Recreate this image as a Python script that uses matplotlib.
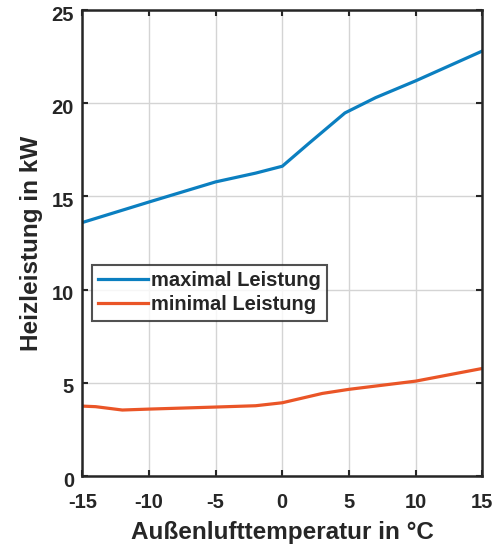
import matplotlib
matplotlib.use("Agg")
import matplotlib.pyplot as plt
from matplotlib.transforms import ScaledTranslation

# Outdoor air temperature (°C) and heating capacity (kW)
temp_max = [-15, -10, -5, -2, 0, 2, 4.7, 7, 10, 15]
power_max = [13.6, 14.7, 15.78, 16.25, 16.62, 17.85, 19.48, 20.3, 21.2, 22.8]

temp_min = [-15, -14, -12, -10, -5, -2, 0, 3, 5, 10, 15]
power_min = [3.75, 3.72, 3.54, 3.59, 3.7, 3.77, 3.93, 4.43, 4.65, 5.09, 5.77]

x_ticks = [-15, -10, -5, 0, 5, 10, 15]
y_ticks = [0, 5, 10, 15, 20, 25]

plt.rcParams["font.family"] = ["Liberation Sans", "DejaVu Sans"]
plt.rcParams["font.weight"] = "bold"
plt.rcParams["axes.unicode_minus"] = False

fig = plt.figure(figsize=(4.97, 5.51), dpi=100)
ax = fig.add_axes([0.1656, 0.1361, 0.8048, 0.8457])

ax.plot(temp_max, power_max, color="#0b7fc0", lw=2.3, label="maximal Leistung")
ax.plot(temp_min, power_min, color="#ea5527", lw=2.3, label="minimal Leistung")

ax.set_xlim(-15, 15)
ax.set_ylim(0, 25)
ax.set_xticks(x_ticks)
ax.set_yticks(y_ticks)
ax.grid(True, color="#d4d4d4", lw=1.0)
ax.set_axisbelow(True)

for s in ax.spines.values():
    s.set_color("#262626")
    s.set_linewidth(1.8)

ax.tick_params(direction="in", length=4, width=1.5, color="#262626",
               top=True, right=True, labelsize=14.5, labelcolor="#262626")
ax.tick_params(axis="x", pad=12)
ax.tick_params(axis="y", pad=6)

# nudge the y tick labels slightly downward
shift = ScaledTranslation(0, -3 / 100, fig.dpi_scale_trans)
for lbl in ax.get_yticklabels():
    lbl.set_transform(lbl.get_transform() + shift)

ax.set_xlabel("Außenlufttemperatur in °C", fontsize=17.5, fontweight="bold",
              color="#262626", labelpad=7)
ax.set_ylabel("Heizleistung in kW", fontsize=17.5, fontweight="bold",
              color="#262626", labelpad=6)

leg = ax.legend(loc="upper left", bbox_to_anchor=(0.024, 0.452),
                fontsize=14.5, frameon=True, fancybox=False,
                borderpad=0.3, handlelength=2.5, handletextpad=0.15,
                labelspacing=0.25, borderaxespad=0)
leg.get_frame().set_edgecolor("#262626")
leg.get_frame().set_linewidth(1.5)
for t in leg.get_texts():
    t.set_color("#262626")

fig.savefig("out.png", dpi=100)
